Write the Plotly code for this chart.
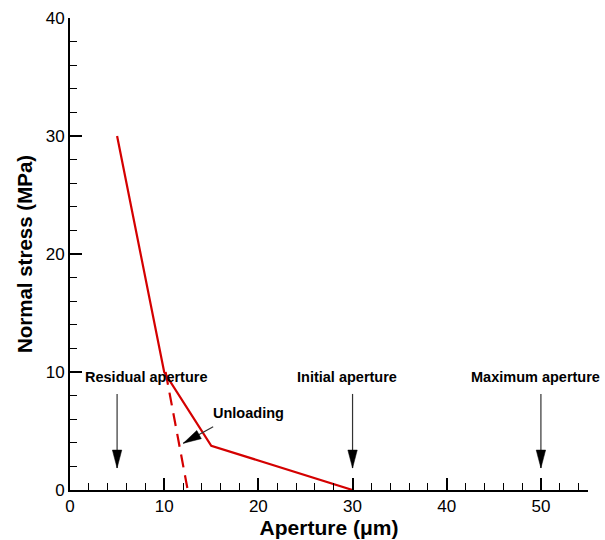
import plotly.graph_objects as go

# Loading curve (solid)
load_x = [5, 10, 15, 30]
load_y = [30, 10, 3.75, 0]
# Unloading curve (dashed)
unload_x = [10.15, 12.5]
unload_y = [10, 0]

# Marker arrows
marker_labels = ["Residual aperture", "Initial aperture", "Maximum aperture"]
marker_x = [5, 30, 50]
label_x = [8.07, 29.46, 49.4]
label_y = 9.6
arrow_top = 8.14
arrow_bottom = 1.86

unload_label = "Unloading"
unload_label_xy = (19.0, 6.5)
unload_tail_xy = (15.2, 5.36)
unload_head_xy = (12.03, 3.96)

X_RANGE = [0, 55]
Y_RANGE = [0, 40]
L, R, T, B = 70, 17, 18, 50
W, H = 605, 540
FONT = "Liberation Sans, Arial, sans-serif"

# pixel scale (for arrowhead geometry only)
px_x = (W - L - R) / (X_RANGE[1] - X_RANGE[0])
px_y = (H - T - B) / (Y_RANGE[1] - Y_RANGE[0])
HEAD_LEN, HEAD_HALF = 18, 4.7


def head_path(tail, tip):
    dxp = (tip[0] - tail[0]) * px_x
    dyp = (tip[1] - tail[1]) * px_y
    n = (dxp ** 2 + dyp ** 2) ** 0.5
    ux, uy = dxp / n, dyp / n
    bx, by = -ux * HEAD_LEN, -uy * HEAD_LEN
    nx, ny = -uy * HEAD_HALF, ux * HEAD_HALF
    p1 = (tip[0] + (bx + nx) / px_x, tip[1] + (by + ny) / px_y)
    p2 = (tip[0] + (bx - nx) / px_x, tip[1] + (by - ny) / px_y)
    return f"M {tip[0]} {tip[1]} L {p1[0]} {p1[1]} L {p2[0]} {p2[1]} Z"


fig = go.Figure()
fig.add_trace(go.Scatter(x=load_x, y=load_y, mode="lines",
                         line=dict(color="#d40000", width=2.2), showlegend=False))
fig.add_trace(go.Scatter(x=unload_x, y=unload_y, mode="lines",
                         line=dict(color="#d40000", width=2.2, dash="13px,8px"), showlegend=False))

annotations = []
shapes = []
arrows = [((mx, arrow_top), (mx, arrow_bottom)) for mx in marker_x]
arrows.append((unload_tail_xy, unload_head_xy))
for tail, tip in arrows:
    shapes.append(dict(type="line", xref="x", yref="y", x0=tail[0], y0=tail[1],
                       x1=tip[0], y1=tip[1], line=dict(color="#333", width=1.2)))
    shapes.append(dict(type="path", xref="x", yref="y", path=head_path(tail, tip),
                       fillcolor="black", line=dict(color="black", width=0.5)))

for lab, lx in zip(marker_labels, label_x):
    annotations.append(dict(x=lx, y=label_y, text=f"<b>{lab}</b>", showarrow=False,
                            font=dict(family=FONT, size=14.5, color="black"),
                            xanchor="center", yanchor="middle"))
annotations.append(dict(x=unload_label_xy[0], y=unload_label_xy[1], text=f"<b>{unload_label}</b>",
                        showarrow=False, font=dict(family=FONT, size=14.5, color="black"),
                        xanchor="center", yanchor="middle"))

axis_common = dict(showgrid=False, zeroline=False, automargin=False,
                   showline=True, linecolor="black", linewidth=2,
                   ticks="inside", ticklen=12, tickwidth=2, tickcolor="black",
                   tickfont=dict(size=17))

fig.update_layout(
    width=W, height=H,
    margin=dict(l=L, r=R, t=T, b=B),
    plot_bgcolor="white", paper_bgcolor="white",
    font=dict(family=FONT, size=17, color="black"),
    annotations=annotations, shapes=shapes,
    xaxis=dict(range=X_RANGE, dtick=10, tick0=0,
               minor=dict(ticks="inside", ticklen=7, tickwidth=1, dtick=2, tickcolor="black"),
               title=dict(text="<b>Aperture (μm)</b>", font=dict(size=21), standoff=0),
               **axis_common),
    yaxis=dict(range=Y_RANGE, dtick=10, tick0=0,
               minor=dict(ticks="inside", ticklen=7, tickwidth=1, dtick=2, tickcolor="black"),
               title=dict(text="<b>Normal stress (MPa)</b>", font=dict(size=20.5), standoff=8),
               **axis_common),
)

fig.write_html("out.html")
